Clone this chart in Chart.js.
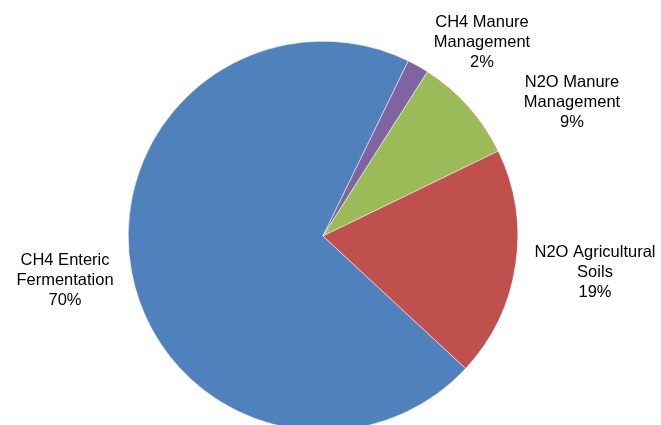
<!DOCTYPE html>
<html>
<head>
<meta charset="utf-8">
<title>Agricultural Emissions</title>
<script src="https://cdn.jsdelivr.net/npm/chart.js@4/dist/chart.umd.min.js"></script>
<style>
    html, body { margin: 0; padding: 0; background: #fff; overflow: hidden; }
    #wrap { position: relative; width: 661px; height: 440px; }
</style>
</head>
<body>
<div id="wrap"><canvas id="pieChart"></canvas></div>
<script>
// Chart data
const categories = ["CH4 Enteric\nFermentation", "CH4 Manure\nManagement", "N2O Manure\nManagement", "N2O Agricultural\nSoils"];
const shares = [70.3, 1.8, 8.8, 19.1];
const sliceColors = ["#4F81BD", "#8064A2", "#9BBB59", "#C0504D"];

// Where each label block is centred (x, y of the first line)
const labelPos = [[65, 260], [482, 22], [572, 82], [595, 252]];

// Draw the outside labels like the Excel original
const pieLabels = {
    id: "pieLabels",
    afterDraw(chart) {
        const ctx = chart.ctx;
        const total = shares.reduce((a, b) => a + b, 0);
        ctx.save();
        ctx.font = "16.5px 'Liberation Sans', Arial, sans-serif";
        ctx.fillStyle = "#000";
        ctx.textAlign = "center";
        ctx.textBaseline = "middle";
        categories.forEach((name, i) => {
            const lines = name.split("\n");
            lines.push(Math.round(shares[i] / total * 100) + "%");
            lines.forEach((line, j) => {
                ctx.fillText(line, labelPos[i][0], labelPos[i][1] + j * 20);
            });
        });
        ctx.restore();
    }
};

new Chart(document.getElementById("pieChart"), {
    type: "pie",
    data: {
        labels: categories,
        datasets: [{
            data: shares,
            backgroundColor: sliceColors,
            borderColor: "#ffffff",
            borderWidth: 0.5
        }]
    },
    options: {
        responsive: true,
        maintainAspectRatio: false,
        animation: false,
        rotation: 132.9,
        layout: { padding: { left: 0, right: 15, top: 41, bottom: 9 } },
        plugins: {
            legend: { display: false },
            tooltip: { enabled: false }
        }
    },
    plugins: [pieLabels]
});
</script>
</body>
</html>
